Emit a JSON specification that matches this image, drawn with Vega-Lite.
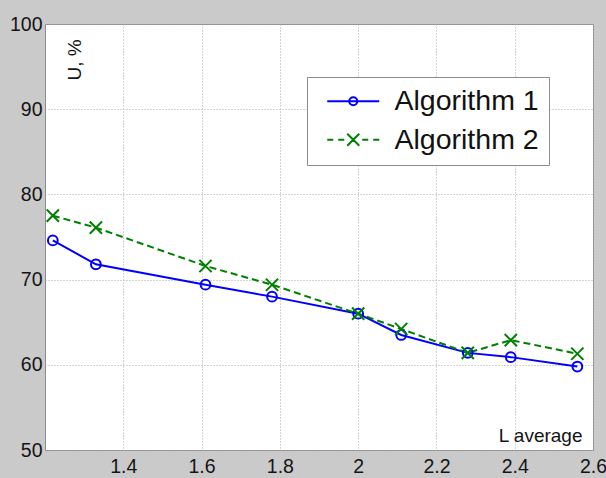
{
  "$schema": "https://vega.github.io/schema/vega-lite/v6.json",
  "width": 548,
  "height": 426,
  "autosize": {"type": "none"},
  "padding": {"left": 45, "top": 24, "right": 13, "bottom": 28},
  "background": "#cacaca",
  "config": {
    "view": {"fill": "white", "stroke": "#8c8c8c", "strokeWidth": 1},
    "axis": {
      "domain": false,
      "ticks": false,
      "tickSize": 0,
      "grid": true,
      "gridDash": [1, 2],
      "gridColor": "#a8a8a8",
      "gridOpacity": 1,
      "gridWidth": 1,
      "labelFont": "Liberation Sans",
      "labelFontSize": 19.5,
      "labelColor": "#141414",
      "labelFlush": false,
      "labelOverlap": false,
      "titleFont": "Liberation Sans",
      "titleFontSize": 19,
      "titleFontWeight": "normal",
      "titleColor": "#141414"
    }
  },
  "data": {
    "values": [
      {"alg": "Algorithm 1", "L": 1.22, "U": 74.6},
      {"alg": "Algorithm 1", "L": 1.33, "U": 71.8},
      {"alg": "Algorithm 1", "L": 1.61, "U": 69.4},
      {"alg": "Algorithm 1", "L": 1.78, "U": 68.0},
      {"alg": "Algorithm 1", "L": 2.0, "U": 66.0},
      {"alg": "Algorithm 1", "L": 2.11, "U": 63.5},
      {"alg": "Algorithm 1", "L": 2.28, "U": 61.4},
      {"alg": "Algorithm 1", "L": 2.39, "U": 60.9},
      {"alg": "Algorithm 1", "L": 2.56, "U": 59.8},
      {"alg": "Algorithm 2", "L": 1.22, "U": 77.5},
      {"alg": "Algorithm 2", "L": 1.33, "U": 76.1},
      {"alg": "Algorithm 2", "L": 1.61, "U": 71.6},
      {"alg": "Algorithm 2", "L": 1.78, "U": 69.4},
      {"alg": "Algorithm 2", "L": 2.0, "U": 66.0},
      {"alg": "Algorithm 2", "L": 2.11, "U": 64.2},
      {"alg": "Algorithm 2", "L": 2.28, "U": 61.4},
      {"alg": "Algorithm 2", "L": 2.39, "U": 62.9},
      {"alg": "Algorithm 2", "L": 2.56, "U": 61.3}
    ]
  },
  "encoding": {
    "x": {
      "field": "L",
      "type": "quantitative",
      "scale": {"domain": [1.2, 2.6], "nice": false, "zero": false},
      "axis": {
        "values": [1.4, 1.6, 1.8, 2, 2.2, 2.4, 2.6],
        "format": "~g",
        "labelPadding": 7,
        "title": "L average",
        "titleX": 537,
        "titleY": -9,
        "titleAlign": "right",
        "titleBaseline": "alphabetic",
        "titleAngle": 0
      }
    },
    "y": {
      "field": "U",
      "type": "quantitative",
      "scale": {"domain": [50, 100], "nice": false, "zero": false},
      "axis": {
        "values": [50, 60, 70, 80, 90, 100],
        "labelPadding": 3,
        "title": "U, %",
        "titleX": 35,
        "titleY": 35.5,
        "titleAngle": -90,
        "titleAlign": "center",
        "titleBaseline": "alphabetic"
      }
    }
  },
  "layer": [
    {
      "transform": [{"filter": "datum.alg === 'Algorithm 1'"}],
      "mark": {"type": "line", "strokeWidth": 2},
      "encoding": {
        "color": {
          "field": "alg",
          "type": "nominal",
          "scale": {"domain": ["Algorithm 1", "Algorithm 2"], "range": ["#0000ff", "#008000"]},
          "legend": {
            "orient": "none",
            "legendX": 262,
            "legendY": 53,
            "title": null,
            "fillColor": "white",
            "strokeColor": "#8c8c8c",
            "padding": 10,
            "symbolSize": 400,
            "symbolOffset": 22,
            "symbolStrokeWidth": 2,
            "labelFont": "Liberation Sans",
            "labelFontSize": 28.5,
            "labelColor": "#111111",
            "labelOffset": 27,
            "rowPadding": 9.5,
            "encode": {
              "symbols": {
                "update": {
                  "shape": {"signal": "datum.value === 'Algorithm 1' ? 'M-2.6,0H2.6M-0.4,0A0.4,0.4 0 1,0 0.4,0A0.4,0.4 0 1,0 -0.4,0' : 'M-2.6,0H-2.0M-1.5,0H-0.9M0.9,0H1.5M2.0,0H2.6M-0.6,-0.6L0.6,0.6M-0.6,0.6L0.6,-0.6'"},
                  "fill": {"value": "transparent"},
                  "strokeWidth": {"value": 2},
                  "opacity": {"value": 1}
                }
              }
            }
          }
        }
      }
    },
    {
      "transform": [{"filter": "datum.alg === 'Algorithm 2'"}],
      "mark": {"type": "line", "strokeWidth": 2, "strokeDash": [7, 4]},
      "encoding": {
        "color": {"field": "alg", "type": "nominal", "legend": null}
      }
    },
    {
      "transform": [{"filter": "datum.alg === 'Algorithm 1'"}],
      "mark": {"type": "point", "shape": "circle", "size": 95, "filled": false, "strokeWidth": 2, "opacity": 1},
      "encoding": {
        "color": {"field": "alg", "type": "nominal", "legend": null}
      }
    },
    {
      "transform": [{"filter": "datum.alg === 'Algorithm 2'"}],
      "mark": {"type": "point", "shape": "M-1,-1L1,1M-1,1L1,-1", "size": 150, "filled": false, "strokeWidth": 2, "opacity": 1},
      "encoding": {
        "color": {"field": "alg", "type": "nominal", "legend": null}
      }
    }
  ]
}
